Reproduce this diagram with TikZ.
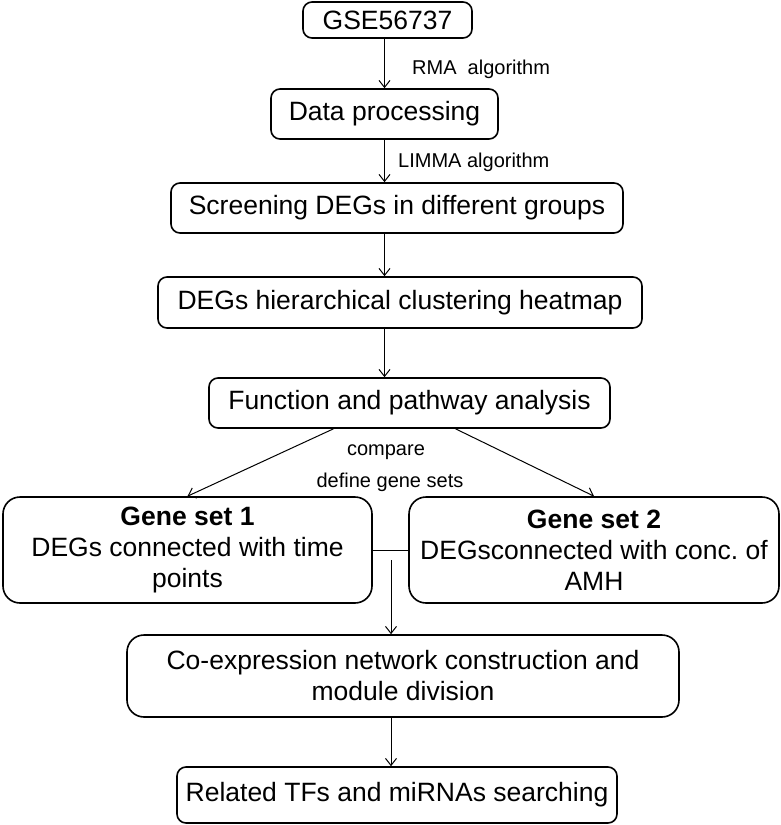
\documentclass[tikz,border=0pt]{standalone}
\usepackage{fontspec}
\setmainfont{Liberation Sans}
\usetikzlibrary{arrows.meta}

\begin{document}
\begin{tikzpicture}[x=1pt,y=-1pt,
	box/.style={draw,line width=1.6pt,rounded corners=9pt,inner sep=0pt,align=center,font=\fontsize{26.5}{31}\selectfont},
	bigbox/.style={box,rounded corners=17pt},
	lab/.style={inner sep=0pt,font=\fontsize{20}{24}\selectfont},
	arr/.style={line width=1pt,-{Straight Barb[length=7pt,width=11pt]}}]

\useasboundingbox (0,0) rectangle (781,825);

% boxes
\node[box,minimum width=169pt,minimum height=36pt] (gse) at (387.5,20) {GSE56737};
\node[box,minimum width=227pt,minimum height=50pt] (data) at (384.5,114) {Data processing};
\node[box,minimum width=452pt,minimum height=50pt] (screen) at (397,208) {Screening DEGs in different groups};
\node[box,minimum width=484pt,minimum height=51pt] (heat) at (400,302.5) {DEGs hierarchical clustering heatmap};
\node[box,minimum width=401pt,minimum height=50pt] (func) at (409.5,403) {Function and pathway analysis};
\node[bigbox,minimum width=369pt,minimum height=106pt] (gs1) at (187.5,550) {\textbf{Gene set 1}\\DEGs connected with time\\points};
\node[bigbox,minimum width=370pt,minimum height=106pt] (gs2) at (594,550) {\textbf{Gene set 2}\\DEGsconnected with conc.\ of\\AMH};
\node[bigbox,minimum width=552pt,minimum height=82pt] (coex) at (403,676) {Co-expression network construction and\\module division};
\node[box,minimum width=440pt,minimum height=56pt] (rel) at (397,795) {Related TFs and miRNAs searching};

% labels
\node[lab,anchor=west] (rma) at (412,69) {RMA\ \ algorithm};
\node[lab,anchor=west] (limma) at (398,162) {LIMMA algorithm};
\node[lab] (cmp) at (386,452) {compare};
\node[lab] (def) at (390,482) {define gene sets};

% arrows
\draw[arr] (gse.south -| data.north) -- (data.north);
\draw[arr] (data.south) -- (data.south |- screen.north);
\draw[arr] (screen.south -| data.south) -- (heat.north -| data.south);
\draw[arr] (heat.south -| data.south) -- (func.north -| data.south);
\draw[arr] ([xshift=-76pt]func.south) -- (gs1.north);
\draw[arr] ([xshift=46pt]func.south) -- (gs2.north);
\draw[line width=1pt] (gs1.east) -- (gs2.west);
\coordinate (split) at (391,560);
\draw[arr] (split) -- (split |- coex.north);
\draw[arr] (coex.south -| split) -- (rel.north -| split);

\end{tikzpicture}
\end{document}
